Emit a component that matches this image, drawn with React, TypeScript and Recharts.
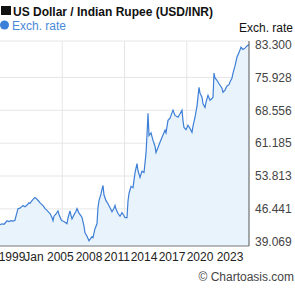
import React from 'react';
import { AreaChart, Area, XAxis, YAxis, CartesianGrid } from 'recharts';

// decimal years and USD/INR rates
const years = [
  1999.1, 1999.3, 1999.5, 1999.7, 1999.8, 2000.0, 2000.2, 2000.4, 2000.6, 2000.7, 2000.9,
  2001.1, 2001.3, 2001.4, 2001.6, 2001.8, 2002.0, 2002.1, 2002.3, 2002.5, 2002.6, 2002.8,
  2003.0, 2003.1, 2003.3, 2003.5, 2003.6, 2003.8, 2004.0, 2004.1, 2004.3, 2004.4, 2004.5,
  2004.7, 2004.9, 2005.0, 2005.2, 2005.3, 2005.5, 2005.8, 2005.9, 2006.1, 2006.2, 2006.3,
  2006.5, 2006.7, 2006.8, 2007.0, 2007.2, 2007.3, 2007.5, 2007.6, 2007.8, 2008.0, 2008.1,
  2008.3, 2008.4, 2008.6, 2008.8, 2008.9, 2009.0, 2009.2, 2009.3, 2009.4, 2009.5, 2009.7,
  2009.9, 2010.1, 2010.3, 2010.5, 2010.6, 2010.7, 2010.9, 2011.1, 2011.3, 2011.5, 2011.6,
  2011.8, 2011.9, 2012.0, 2012.2, 2012.4, 2012.6, 2012.8, 2012.9, 2013.1, 2013.3, 2013.5,
  2013.7, 2013.8, 2013.9, 2014.0, 2014.2, 2014.4, 2014.6, 2014.7, 2014.9, 2015.1, 2015.4,
  2015.6, 2015.7, 2015.9, 2016.1, 2016.4, 2016.6, 2016.9, 2017.1, 2017.3, 2017.4, 2017.5,
  2017.7, 2017.9, 2018.1, 2018.3, 2018.4, 2018.6, 2018.8, 2019.0, 2019.1, 2019.3, 2019.4,
  2019.6, 2019.7, 2019.9, 2020.1, 2020.3, 2020.4, 2020.5, 2020.6, 2020.8, 2021.0, 2021.3,
  2021.4, 2021.6, 2021.8, 2022.0, 2022.1, 2022.3, 2022.4, 2022.6, 2022.8, 2023.0, 2023.2,
  2023.4, 2023.6, 2023.8, 2024.0,
];
const rates = [
  42.9, 43.1, 43.0, 43.5, 43.8, 43.6, 43.8, 43.7, 43.9, 44.8, 46.5,
  46.6, 47.0, 47.2, 46.9, 47.3, 47.8, 47.7, 48.3, 48.8, 49.0, 48.6,
  48.1, 47.8, 47.4, 46.9, 46.5, 46.1, 45.6, 45.4, 44.5, 43.8, 44.8,
  45.3, 46.0, 45.2, 44.1, 43.8, 43.6, 43.1, 44.4, 46.0, 45.0, 44.2,
  45.1, 45.9, 46.5, 45.5, 44.9, 44.5, 42.6, 41.1, 40.3, 39.3, 39.6,
  40.2, 40.0, 42.0, 43.1, 46.8, 48.3, 49.8, 50.9, 51.7, 49.6, 48.3,
  47.6, 46.7, 45.8, 46.6, 47.2, 46.4, 45.4, 44.8, 45.6, 44.9, 44.5,
  44.5, 48.2, 49.9, 51.5, 51.2, 54.5, 56.6, 55.0, 53.5, 54.9, 54.6,
  58.9, 63.0, 67.9, 62.9, 63.5, 61.8, 60.5, 59.1, 60.2, 61.4, 63.0,
  64.1, 63.5, 66.3, 66.8, 68.6, 67.4, 67.0, 67.8, 68.6, 66.2, 64.7,
  64.2, 65.2, 64.5, 63.6, 65.0, 67.0, 69.5, 73.7, 72.4, 71.5, 70.0,
  69.2, 70.4, 71.9, 70.8, 71.2, 71.5, 76.9, 75.8, 75.3, 74.5, 73.5,
  72.6, 73.1, 74.0, 74.3, 74.9, 75.8, 76.9, 78.5, 80.5, 81.5, 82.7,
  82.2, 82.5, 83.0, 83.3,
];

const yTicks = [39.069, 46.441, 53.813, 61.185, 68.556, 75.928, 83.3];
const xTickLabels = ['1999', 'Jan 2005', '2008', '2011', '2014', '2017', '2020', '2023'];
const xTickYears = [2000.3, 2004.0, 2008.0, 2010.8, 2013.5, 2016.3, 2019.1, 2022.1];

const xDomain = [1999.1, 2024.0];
const yDomain = [38.12, 84.1];

const data = years.map((t, i) => ({ t, rate: rates[i] }));
const quarterYears = [1, 2, 3].map(q => xDomain[0] + ((xDomain[1] - xDomain[0]) * q) / 4);

const font = '"Liberation Sans", Arial, sans-serif';

export default function App() {
  return (
    <div style={{ position: 'absolute', left: 0, top: 0, width: 295, height: 288, background: '#fff', fontFamily: font }}>
      <AreaChart width={295} height={288} data={data} margin={{ top: 41, right: 0, left: 0, bottom: 26 }}>
        <CartesianGrid
          stroke="#e6e6e6"
          horizontalValues={[...yTicks, yDomain[1]]}
          verticalValues={quarterYears}
        />
        <XAxis
          dataKey="t"
          type="number"
          domain={xDomain}
          ticks={xTickYears}
          tickFormatter={(v) => xTickLabels[xTickYears.indexOf(v)] ?? ''}
          interval={0}
          height={16}
          tickLine={false}
          tickMargin={0}
          axisLine={{ stroke: '#777' }}
          tick={{ fontSize: 12, fill: '#222', fontFamily: font }}
        />
        <YAxis
          orientation="right"
          type="number"
          domain={yDomain}
          ticks={yTicks}
          width={46}
          tickLine={false}
          tickMargin={0}
          tickFormatter={(v) => Number(v).toFixed(3)}
          axisLine={{ stroke: '#555' }}
          tick={{ fontSize: 12, fill: '#444', fontFamily: font }}
        />
        <Area
          type="linear"
          dataKey="rate"
          stroke="#3d7fd6"
          strokeWidth={1.2}
          fill="#e9f3fc"
          fillOpacity={1}
          dot={false}
          isAnimationActive={false}
        />
      </AreaChart>
      <svg width={295} height={288} style={{ position: 'absolute', left: 0, top: 0, pointerEvents: 'none' }}>
        <rect x={1} y={6} width={10} height={9} fill="#111" />
        <text x={13} y={15.5} fontSize={12} fontWeight="bold" fill="#111" fontFamily={font}>
          US Dollar / Indian Rupee (USD/INR)
        </text>
        <circle cx={4.5} cy={25} r={4.5} fill="#3a7fd8" />
        <text x={12} y={29.5} fontSize={12} fill="#4a8ad8" fontFamily={font}>Exch. rate</text>
        <text x={239} y={31.5} fontSize={12} fill="#111" fontFamily={font}>Exch. rate</text>
        <text x={294} y={281} fontSize={12} fill="#444" textAnchor="end" fontFamily={font}>© Chartoasis.com</text>
      </svg>
    </div>
  );
}
